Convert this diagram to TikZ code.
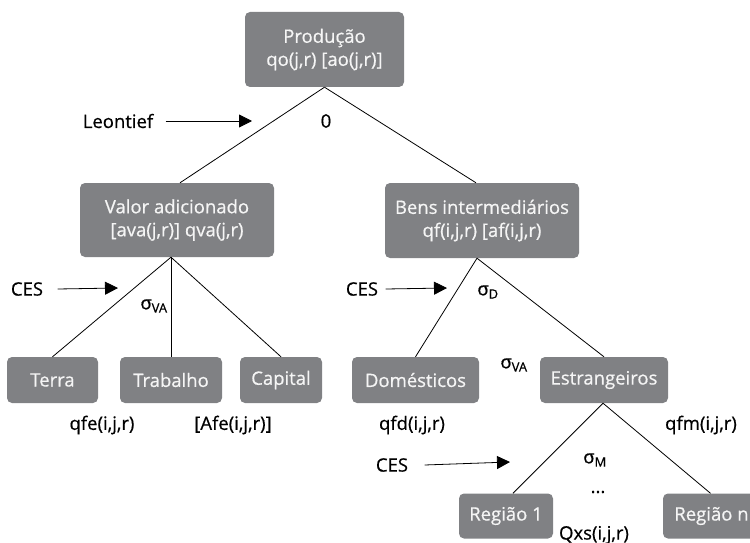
\documentclass[tikz,border=0pt]{standalone}
\usepackage{fontspec}
\setmainfont{Open Sans}[FakeBold=0.6]
\usepackage{tikz}
\usetikzlibrary{arrows.meta,positioning}
\definecolor{nestgray}{RGB}{128,129,132}
\definecolor{nesttext}{RGB}{245,245,245}
\tikzstyle{level} = [rectangle, rounded corners=5pt, fill=nestgray, text=nesttext, align=center, inner sep=2pt]
\tikzstyle{leaf} = [level, minimum height=46pt]
\tikzstyle{branch} = [line width=0.8pt, color=black]
\tikzstyle{arrow} = [line width=0.8pt,-{Triangle[length=13pt,width=13pt]},color=black]

\begin{document}
\begin{tikzpicture}[x=1pt, y=-1pt, every node/.style={font=\fontsize{18.5}{23}\selectfont}]
\useasboundingbox (0,0) rectangle (750,543);

% Top level
\node[level, minimum width=159pt, minimum height=75pt] (prod) at (324.5,49.5) {Produção\\qo(j,r) [ao(j,r)]};

% Second level
\node[level, minimum width=194pt, minimum height=74pt] (valor) at (177,220) {Valor adicionado\\{}[ava(j,r)] qva(j,r)};
\node[level, minimum width=194pt, minimum height=75pt] (bens) at (482,220.5) {Bens intermediários\\qf(i,j,r) [af(i,j,r)};

% Factors
\node[leaf, minimum width=91pt] (terra) at (52.5,380) {Terra};
\node[leaf, minimum width=102pt] (trab) at (171,380) {Trabalho};
\node[leaf, minimum width=82pt] (capital) at (281,380) {Capital};

% Origin of goods
\node[leaf, minimum width=127pt] (dom) at (415.5,380) {Domésticos};
\node[leaf, minimum width=128pt] (estr) at (604,380) {Estrangeiros};

% Regions
\node[leaf, minimum width=94pt, minimum height=45pt] (reg1) at (506,516) {Região 1};
\node[leaf, minimum width=97pt, minimum height=45pt] (regn) at (711.5,516) {Região n};

% Connections
\draw[branch] (prod.south) -- ([xshift=3pt]valor.north);
\draw[branch] (prod.south) -- ([xshift=-6pt]bens.north);
\draw[branch] ([xshift=-6pt]valor.south) -- (terra.north);
\draw[branch] ([xshift=-6pt]valor.south) -- (trab.north);
\draw[branch] ([xshift=-6pt]valor.south) -- (capital.north);
\draw[branch] ([xshift=-5pt]bens.south) -- (dom.north);
\draw[branch] ([xshift=-5pt]bens.south) -- (estr.north);
\draw[branch] ([xshift=-1pt]estr.south) -- ([xshift=7pt]reg1.north);
\draw[branch] ([xshift=-1pt]estr.south) -- ([xshift=-1pt]regn.north);

% Functional forms
\node (leon) at (118,121) {Leontief};
\coordinate (leonTip) at (252,121);
\draw[arrow] ([xshift=9pt]leon.east) -- (leonTip);
\node (zero) at (326,121) {0};

\node (cesA) at (27,289) {CES};
\coordinate (cesATip) at (118,288);
\draw[arrow] ([xshift=11pt]cesA.east) -- (cesATip);
\node (sigVA) at (154,306) {σ\textsubscript{VA}};

\node (cesB) at (362,289) {CES};
\coordinate (cesBTip) at (447,288);
\draw[arrow] ([xshift=4pt]cesB.east) -- (cesBTip);
\node (sigD) at (488,292) {σ\textsubscript{D}};
\node (sigVAb) at (514,365) {σ\textsubscript{VA}};

\node (cesC) at (392,465) {CES};
\coordinate (cesCTip) at (510,462);
\draw[arrow] ([xshift=13pt]cesC.east) -- (cesCTip);
\node (sigM) at (595,460) {σ\textsubscript{M}};
\node (dots) at (598,492) {...};

% Quantities
\node (qfe) at (102,425) {qfe(i,j,r)};
\node (afe) at (233,425) {[Afe(i,j,r)]};
\node (qfd) at (412,425) {qfd(i,j,r)};
\node (qfm) at (701,425) {qfm(i,j,r)};
\node (qxs) at (594,535) {Qxs(i,j,r)};
\end{tikzpicture}
\end{document}
